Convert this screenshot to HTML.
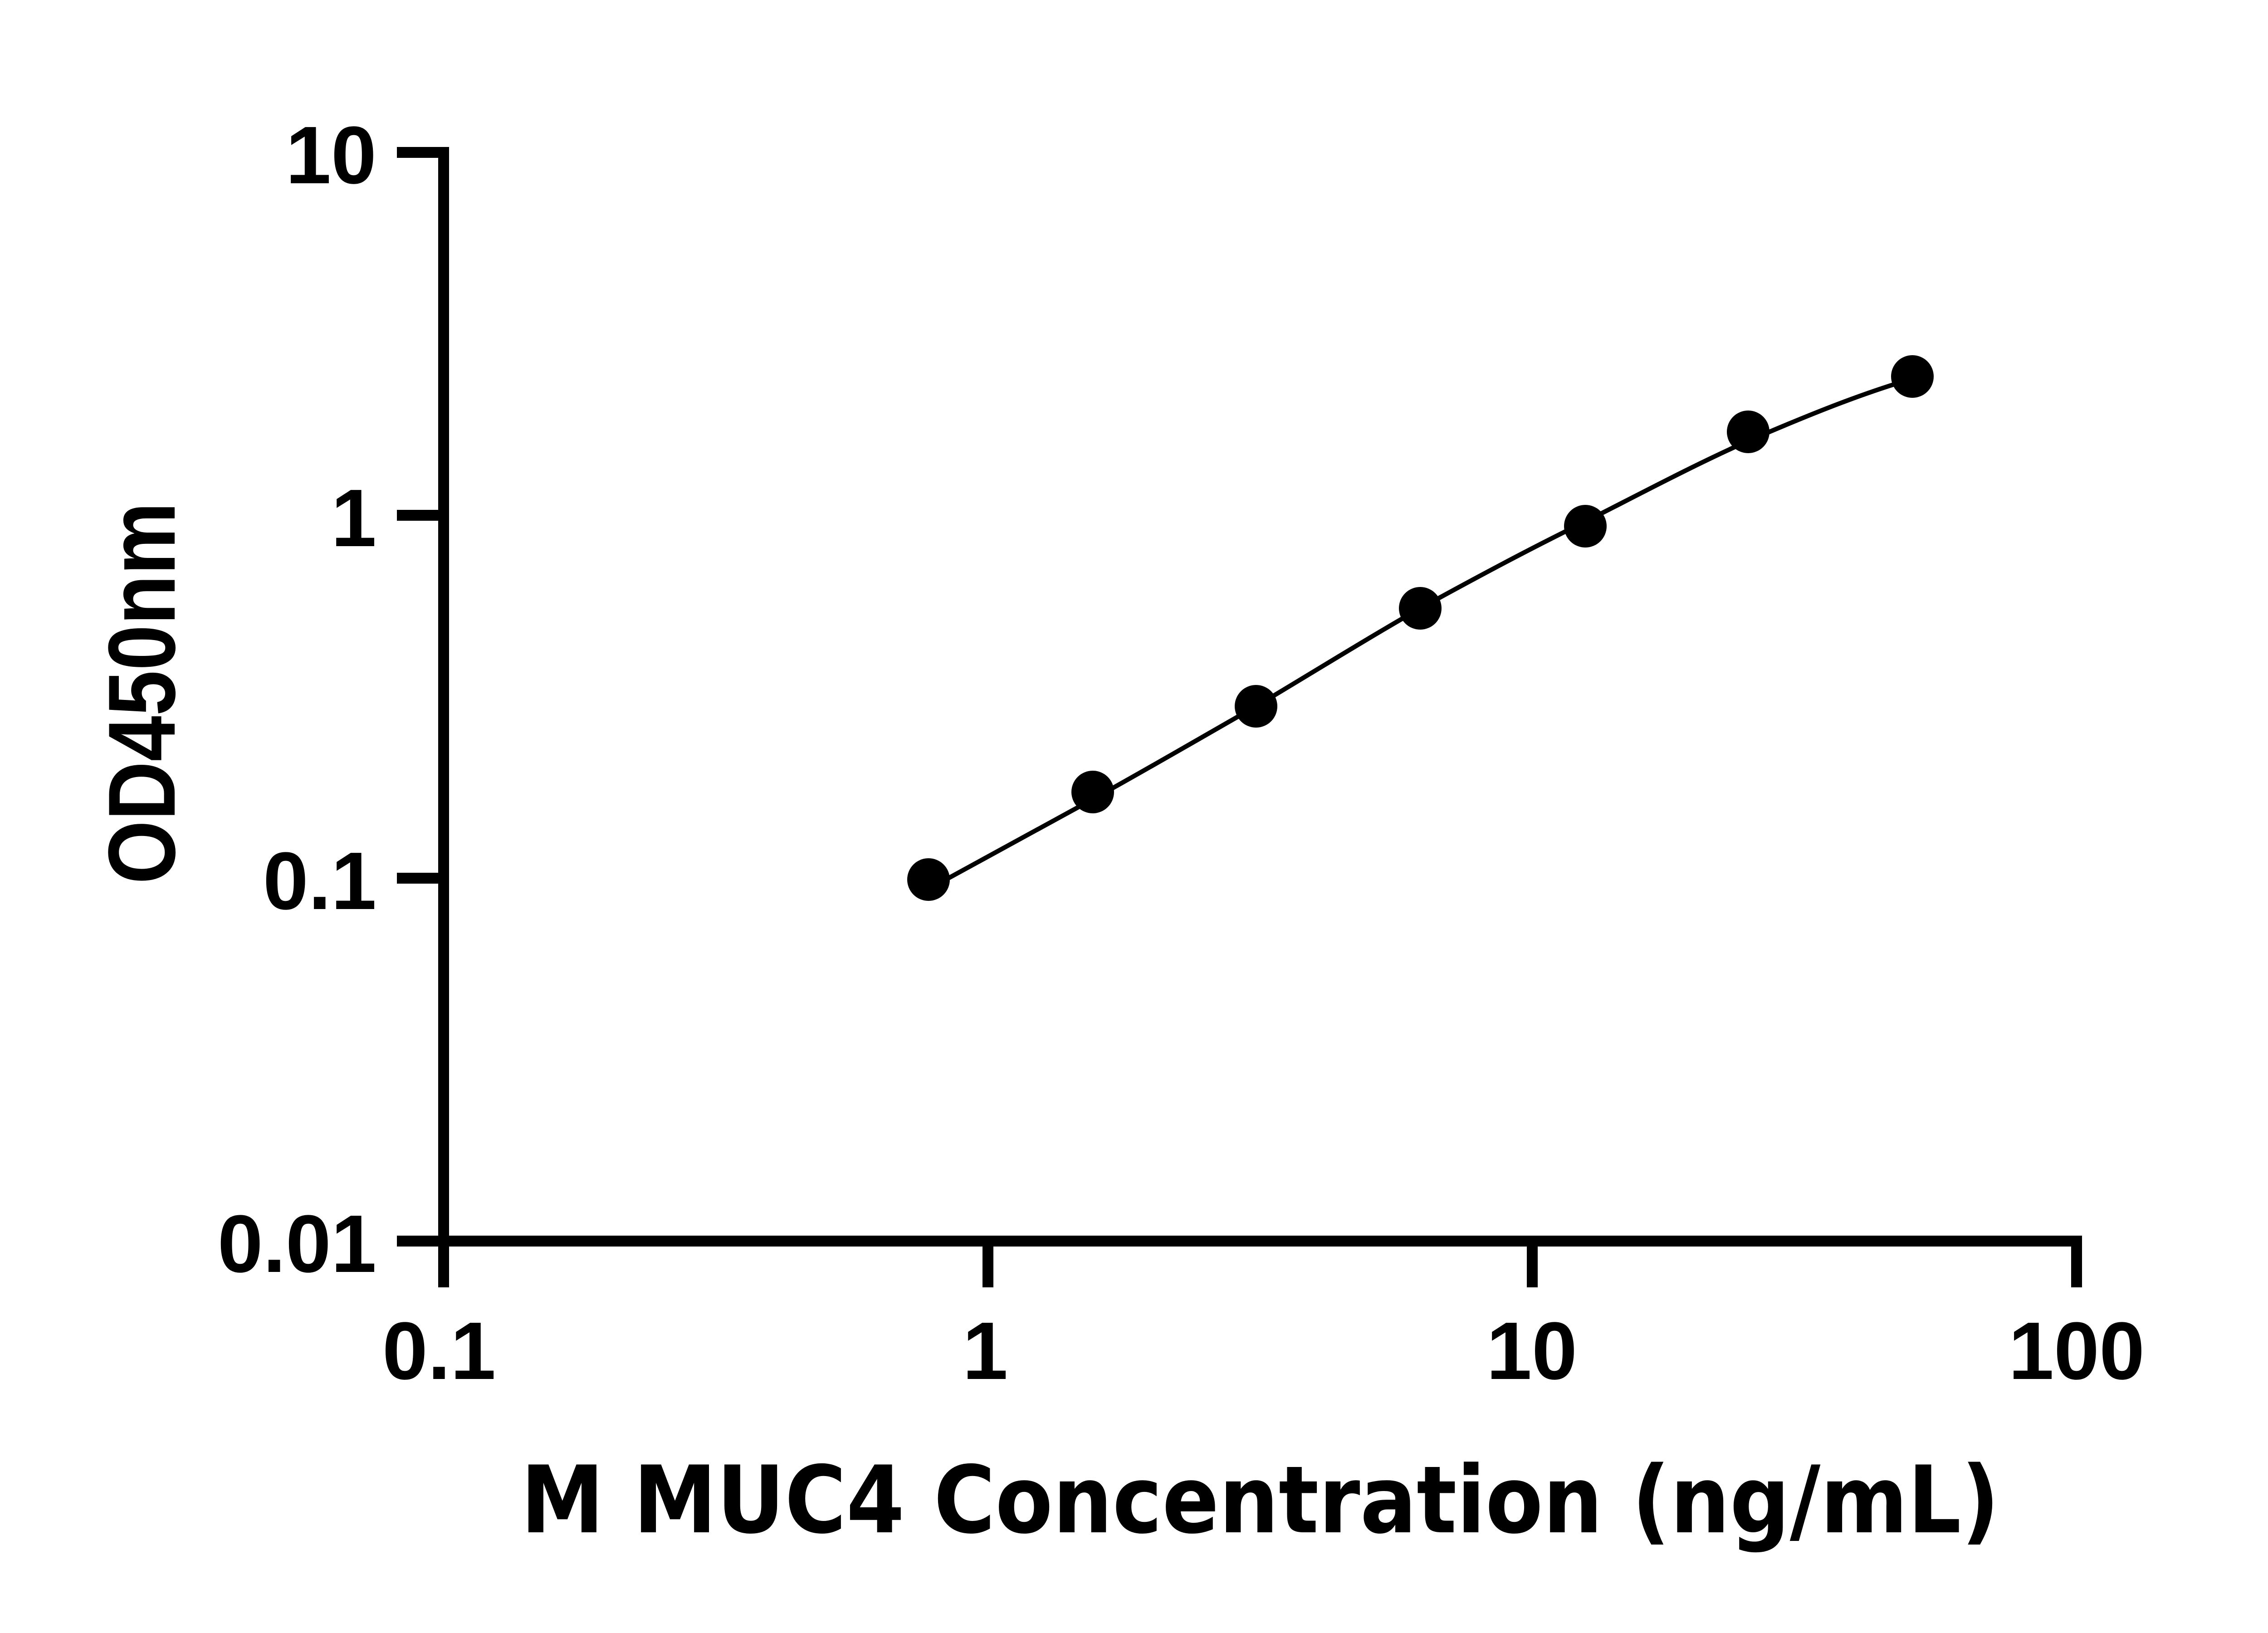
<!DOCTYPE html>
<html><head><meta charset="utf-8"><style>
html,body{margin:0;padding:0;background:#fff;}
svg{display:block;}
text{font-family:"Liberation Sans",Arial,sans-serif;font-weight:bold;fill:#000;}
</style></head><body>
<svg width="5130" height="3600" viewBox="0 0 5130 3600" xmlns="http://www.w3.org/2000/svg">
<g stroke="#000" stroke-width="24" fill="none">
<line x1="978" y1="324" x2="978" y2="2838"/>
<line x1="875" y1="2736" x2="4590" y2="2736"/>
<line x1="875" y1="336" x2="978" y2="336"/>
<line x1="875" y1="1136" x2="978" y2="1136"/>
<line x1="875" y1="1936" x2="978" y2="1936"/>
<line x1="2178" y1="2736" x2="2178" y2="2838"/>
<line x1="3378" y1="2736" x2="3378" y2="2838"/>
<line x1="4578" y1="2724" x2="4578" y2="2838"/>
</g>
<g font-size="180" text-anchor="end">
<text x="830" y="404">10</text>
<text x="830" y="1204">1</text>
<text x="830" y="2004">0.1</text>
<text x="830" y="2804">0.01</text>
</g>
<g font-size="180" text-anchor="middle">
<text x="968" y="3040">0.1</text>
<text x="2172" y="3040">1</text>
<text x="3377" y="3040">10</text>
<text x="4578" y="3040">100</text>
</g>
<text x="2778" y="3378" font-size="205" text-anchor="middle" textLength="3260" lengthAdjust="spacingAndGlyphs" style="font-family:'DejaVu Sans','Liberation Sans',sans-serif">M MUC4 Concentration (ng/mL)</text>
<text transform="translate(385,1528) rotate(-90)" x="0" y="0" font-size="210" text-anchor="middle" textLength="842" lengthAdjust="spacingAndGlyphs">OD450nm</text>
<path d="M2047,1960 C2170,1893 2290,1828 2409,1762 C2530,1695 2650,1625 2769,1557 C2890,1485 3010,1410 3131,1341 C3253,1274 3374,1209 3495,1150 C3615,1089 3735,1025 3854,972 C3975,920 4096,870 4216,835" fill="none" stroke="#000" stroke-width="10" stroke-linejoin="round"/>
<g fill="#000">
<circle cx="2047" cy="1939" r="47"/>
<circle cx="2409" cy="1746" r="47"/>
<circle cx="2769" cy="1557" r="47"/>
<circle cx="3131" cy="1341" r="47"/>
<circle cx="3495" cy="1160" r="47"/>
<circle cx="3854" cy="952" r="47"/>
<circle cx="4216" cy="830" r="47"/>
</g>
</svg>
</body></html>
